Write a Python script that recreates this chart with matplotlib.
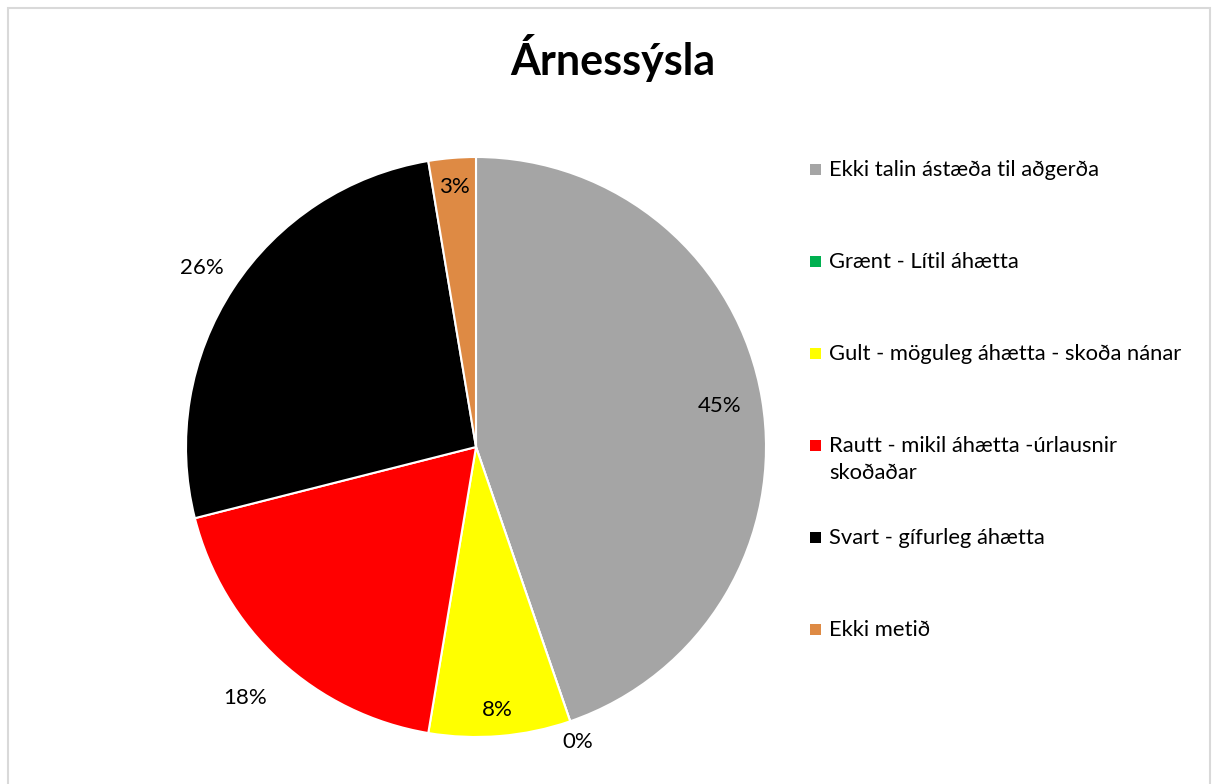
import numpy as np
import matplotlib
matplotlib.use("Agg")
import matplotlib.pyplot as plt
from matplotlib.patches import Rectangle

title = "Árnessýsla"
categories = [
    "Ekki talin ástæða til aðgerða",
    "Grænt - Lítil áhætta",
    "Gult - möguleg áhætta - skoða nánar",
    "Rautt - mikil áhætta -úrlausnir\nskoðaðar",
    "Svart - gífurleg áhætta",
    "Ekki metið",
]
counts = [17, 0, 3, 7, 10, 1]
colors = ["#A5A5A5", "#00B050", "#FFFF00", "#FF0000", "#000000", "#DE8A44"]
label_radius = [0.853, 1.077, 0.91, 1.177, 1.13, 0.90]

W, H = 1217, 784
fig = plt.figure(figsize=(W / 100, H / 100), dpi=100)
font = "Lato"

# outer frame
fig.patches.append(Rectangle((8 / W, -0.01), (1210 - 8) / W, (784 - 8) / H + 0.01,
                             transform=fig.transFigure, fill=False,
                             edgecolor="#D9D9D9", linewidth=1.5))

cx, cy, r = 476, 447, 290
ax = fig.add_axes([(cx - r) / W, (H - cy - r) / H, 2 * r / W, 2 * r / H])
wedges, _ = ax.pie(counts, colors=colors, startangle=90, counterclock=False,
                   wedgeprops=dict(edgecolor="white", linewidth=1.5))
ax.set_xlim(-1, 1)
ax.set_ylim(-1, 1)
ax.set_aspect("equal")
ax.axis("off")

total = sum(counts)
for w, c, rr in zip(wedges, counts, label_radius):
    ang = np.deg2rad((w.theta1 + w.theta2) / 2)
    ax.text(rr * np.cos(ang), rr * np.sin(ang), f"{round(100 * c / total)}%",
            ha="center", va="center", fontsize=16, family=font, color="black")

fig.text(613 / W, 1 - 58 / H, title, ha="center", va="center",
         fontsize=31, fontweight="bold", family=font)

# legend
for i, (lab, col) in enumerate(zip(categories, colors)):
    y = 170 + 92 * i
    fig.patches.append(Rectangle((810 / W, 1 - (y + 5) / H), 11 / W, 11 / H,
                                 transform=fig.transFigure, facecolor=col,
                                 edgecolor="none"))
    fig.text(829 / W, 1 - (y - 10) / H, lab, ha="left", va="top",
             fontsize=15.8, family=font, linespacing=1.45)

fig.savefig("out.png", dpi=100)
